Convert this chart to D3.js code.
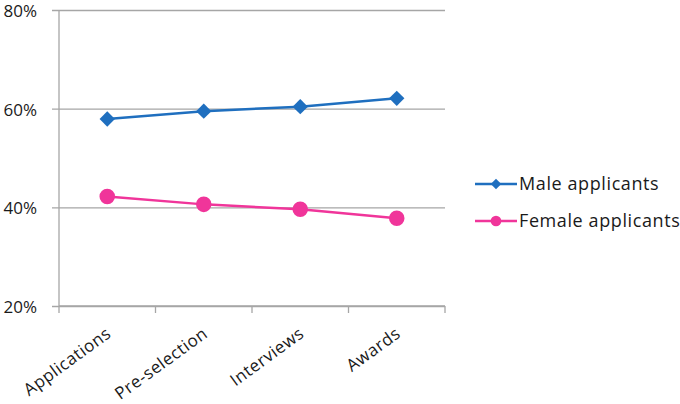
<!DOCTYPE html>
<html lang="en">
<head>
    <meta charset="UTF-8">
    <title>Applicants by stage</title>
    <script src="https://d3js.org/d3.v7.min.js"></script>
    <style>
        body { margin: 0; background: #fff; }
        text { font-family: "Open Sans", "DejaVu Sans", sans-serif; fill: #1a1a1a; }
    </style>
</head>
<body>
    <svg id="chart" width="680" height="404"></svg>
    <script>
        // Chart data
        const stages = ["Applications", "Pre-selection", "Interviews", "Awards"];
        const maleValues = [57.9, 59.5, 60.4, 62.1];
        const femaleValues = [42.2, 40.6, 39.6, 37.8];
        const yTicks = [20, 40, 60, 80];
        const seriesNames = ["Male applicants", "Female applicants"];

        const svg = d3.select("#chart");
        const margin = { top: 10, right: 235, bottom: 98, left: 59 };
        const width = +svg.attr("width") - margin.left - margin.right;
        const height = +svg.attr("height") - margin.top - margin.bottom;

        const x = d3.scaleBand().domain(stages).range([0, width]);
        const y = d3.scaleLinear().domain([20, 80]).range([height, 0]);

        const chart = svg.append("g")
            .attr("transform", `translate(${margin.left},${margin.top})`);

        // gridlines, sticking out a little left of the axis
        chart.append("g")
            .call(d3.axisLeft(y).tickValues(yTicks).tickSize(-width).tickFormat(d => d + "%"))
            .call(g => g.select(".domain").remove())
            .call(g => g.selectAll(".tick line").attr("x1", -7).attr("stroke", "#a6a6a6").attr("stroke-width", 1.3))
            .call(g => g.selectAll(".tick text").attr("x", -22).attr("dy", "0.38em").style("font-size", "17px"));

        // y axis line
        chart.append("line")
            .attr("x1", 0).attr("x2", 0).attr("y1", 0).attr("y2", height)
            .attr("stroke", "#a6a6a6").attr("stroke-width", 1.3);

        // x axis with ticks between categories
        const xAxis = chart.append("g").attr("transform", `translate(0,${height})`);
        xAxis.append("line").attr("x1", 0).attr("x2", width)
            .attr("stroke", "#a6a6a6").attr("stroke-width", 1.3);
        xAxis.selectAll(".sep")
            .data(stages.concat(["end"]))
            .enter().append("line")
            .attr("x1", (d, i) => i * x.step()).attr("x2", (d, i) => i * x.step())
            .attr("y1", 0).attr("y2", 7)
            .attr("stroke", "#a6a6a6").attr("stroke-width", 1.3);
        xAxis.selectAll(".lbl")
            .data(stages)
            .enter().append("text")
            .attr("text-anchor", "end")
            .attr("transform", d => `translate(${x(d) + x.bandwidth() / 2 + 5},${30}) rotate(-36)`)
            .style("font-size", "17px")
            .style("letter-spacing", "0.5px")
            .text(d => d);

        const cx = d => x(d) + x.bandwidth() / 2;
        const line = d3.line().x(d => cx(d.stage)).y(d => y(d.v));

        const series = [
            { name: seriesNames[0], color: "#1f6fbf", values: maleValues, symbol: d3.symbolDiamond2, size: 150 },
            { name: seriesNames[1], color: "#f0359a", values: femaleValues, symbol: d3.symbolCircle, size: 190 }
        ];

        series.forEach(s => {
            const pts = stages.map((stage, i) => ({ stage, v: s.values[i] }));
            chart.append("path")
                .datum(pts)
                .attr("fill", "none")
                .attr("stroke", s.color)
                .attr("stroke-width", 2.5)
                .attr("d", line);
            chart.selectAll(null)
                .data(pts)
                .enter().append("path")
                .attr("transform", d => `translate(${cx(d.stage)},${y(d.v)})`)
                .attr("d", d3.symbol().type(s.symbol).size(s.size))
                .attr("fill", s.color);
        });

        // legend
        const legend = svg.append("g").attr("transform", "translate(475,184)");
        series.forEach((s, i) => {
            const g = legend.append("g").attr("transform", `translate(0,${i * 37})`);
            g.append("line").attr("x1", 0).attr("x2", 42)
                .attr("stroke", s.color).attr("stroke-width", 2.5);
            g.append("path")
                .attr("transform", "translate(21,0)")
                .attr("d", d3.symbol().type(s.symbol).size(s.symbol === d3.symbolCircle ? 90 : 70))
                .attr("fill", s.color);
            g.append("text").attr("x", 44).attr("dy", "0.35em")
                .style("font-size", "18px")
                .style("letter-spacing", "0.6px")
                .text(s.name);
        });
    </script>
</body>
</html>
